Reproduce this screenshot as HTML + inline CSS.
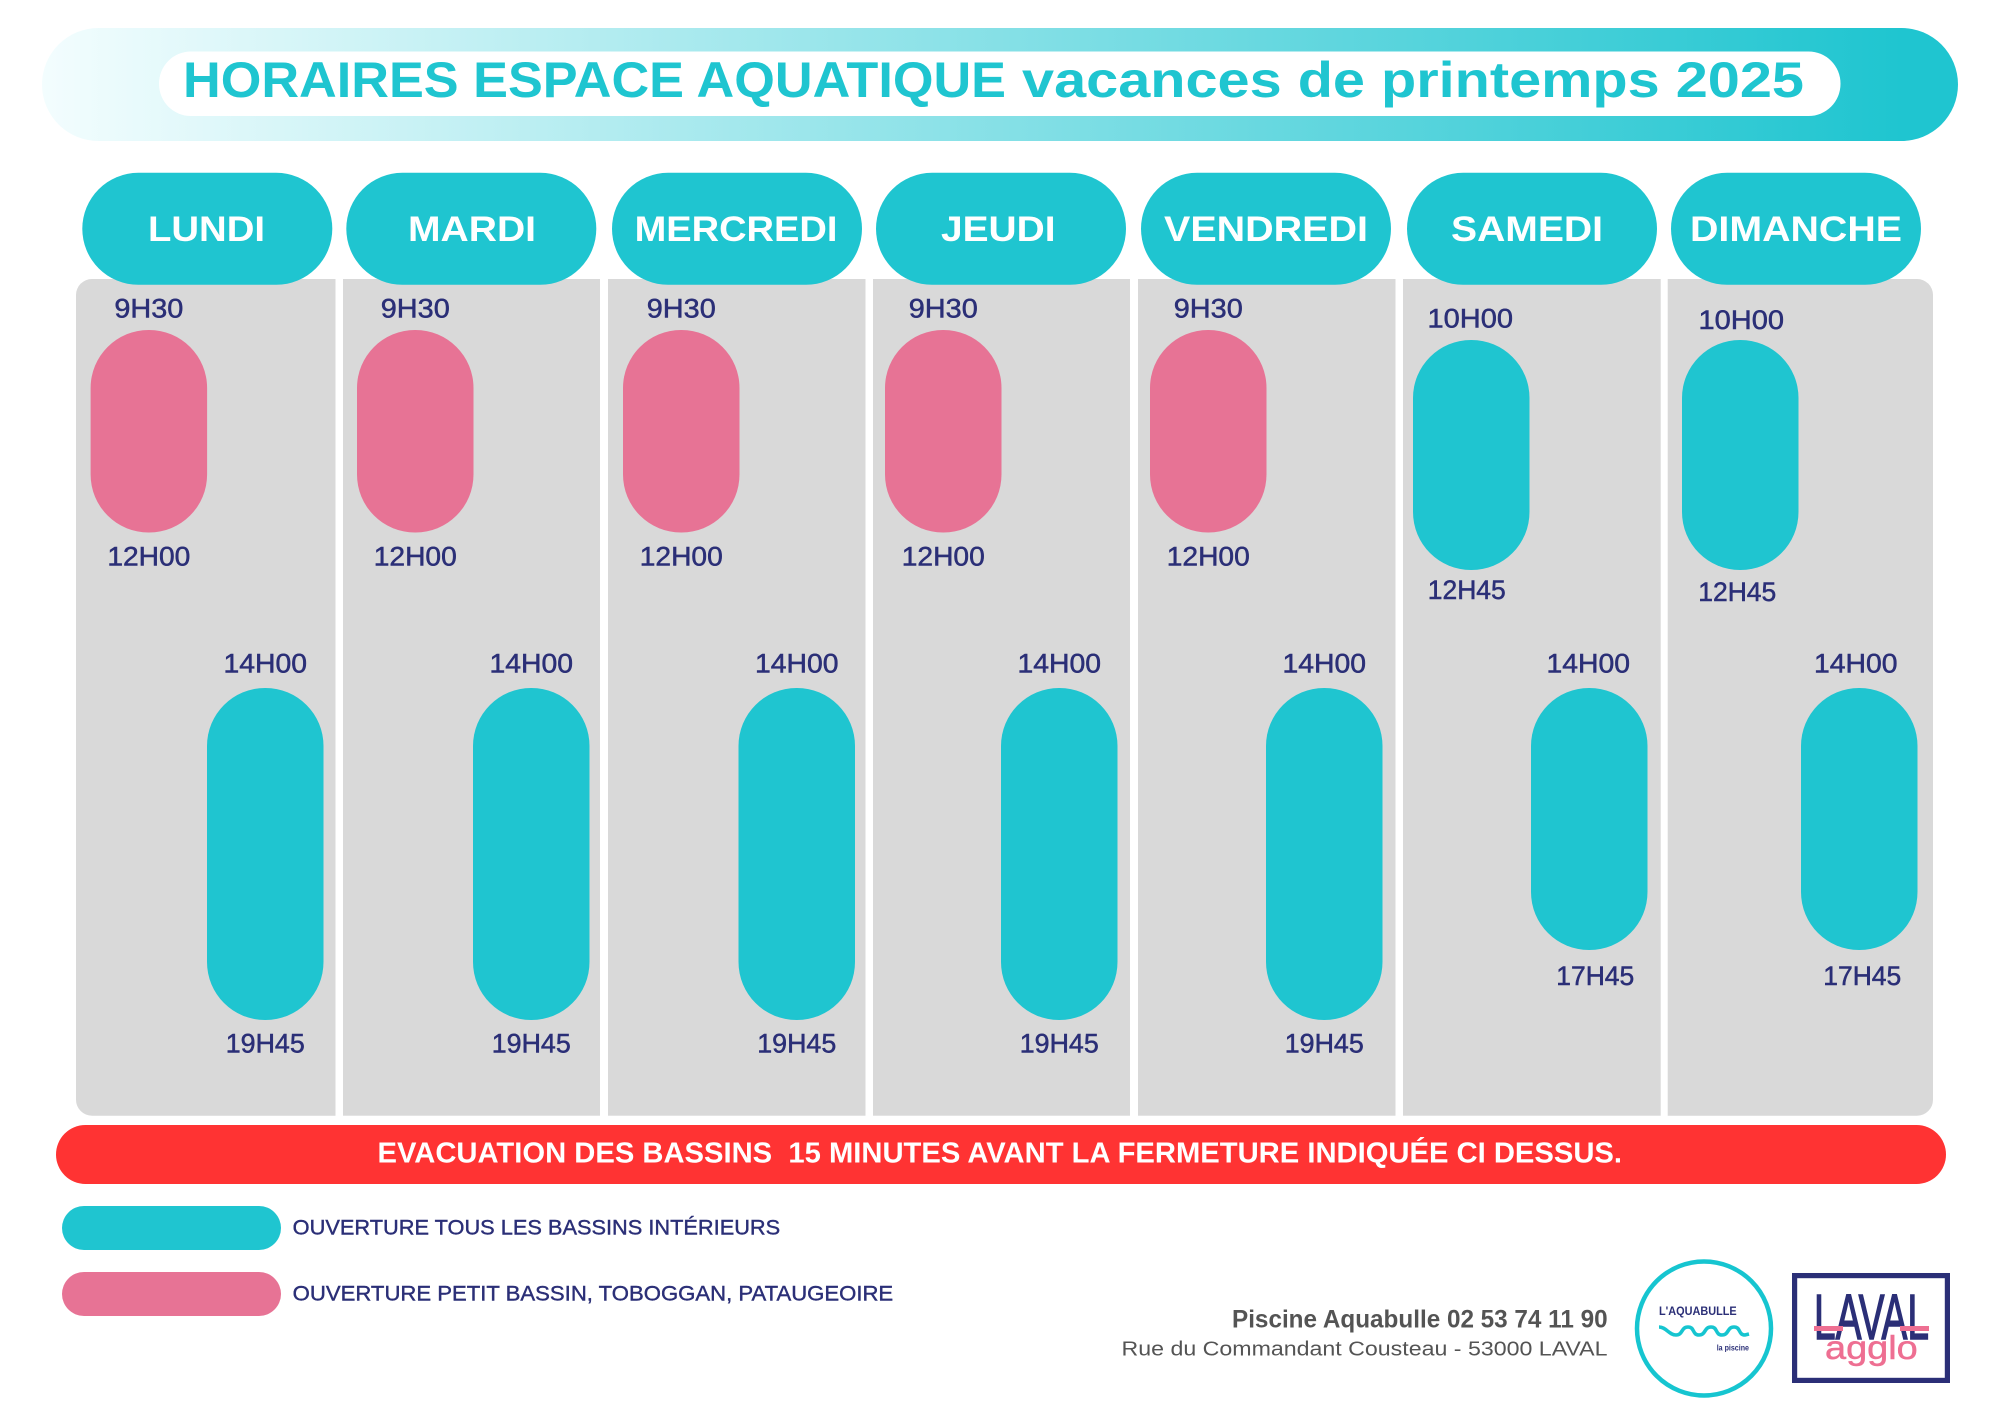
<!DOCTYPE html>
<html lang="fr">
<head>
<meta charset="utf-8">
<title>Horaires espace aquatique</title>
<style>
html,body{margin:0;padding:0;background:#fff;width:2000px;height:1414px;overflow:hidden}
svg{display:block}
text{font-family:"Liberation Sans",sans-serif}
</style>
</head>
<body>
<svg id="chart" xmlns="http://www.w3.org/2000/svg" width="2000" height="1414" viewBox="0 0 2000 1414">
  <defs>
    <linearGradient id="headGrad" x1="0" y1="0" x2="1" y2="0">
      <stop offset="0" stop-color="#f3fdfe"/>
      <stop offset="0.97" stop-color="#1fc5d0"/>
      <stop offset="1" stop-color="#1fc5d0"/>
    </linearGradient>
  </defs>

  <rect x="42" y="28" width="1916" height="113" rx="56.5" fill="url(#headGrad)"/>
  <rect x="159" y="51.5" width="1681.5" height="64.5" rx="32" fill="#fff"/>
  <text x="183" y="97" font-size="50" font-weight="700" fill="#1fc5d0" textLength="823" lengthAdjust="spacingAndGlyphs">HORAIRES ESPACE AQUATIQUE</text>
  <text x="1022" y="97" font-size="50" font-weight="700" fill="#1fc5d0" textLength="782" lengthAdjust="spacingAndGlyphs">vacances de printemps 2025</text>

  <g id="columns">
    <path fill="#d9d9d9" d="M92 279H335.5V1115.7H92A16 16 0 0 1 76 1099.7V295A16 16 0 0 1 92 279Z"/>
    <rect fill="#d9d9d9" x="343" y="279" width="257" height="836.7"/>
    <rect fill="#d9d9d9" x="608" y="279" width="257.5" height="836.7"/>
    <rect fill="#d9d9d9" x="873" y="279" width="257" height="836.7"/>
    <rect fill="#d9d9d9" x="1138" y="279" width="257.5" height="836.7"/>
    <rect fill="#d9d9d9" x="1403" y="279" width="257.7" height="836.7"/>
    <path fill="#d9d9d9" d="M1667.7 279H1917A16 16 0 0 1 1933 295V1099.7A16 16 0 0 1 1917 1115.7H1667.7Z"/>
  </g>

  <g id="marks"></g>

  <rect x="56" y="1125" width="1890" height="59" rx="29.5" fill="#ff3333"/>
  <text x="377.5" y="1162.7" font-size="28.3" font-weight="700" fill="#fff" textLength="1244.5" lengthAdjust="spacingAndGlyphs" xml:space="preserve">EVACUATION DES BASSINS  15 MINUTES AVANT LA FERMETURE INDIQUÉE CI DESSUS.</text>

  <rect x="62" y="1206" width="219" height="44" rx="22" fill="#1fc5d0"/>
  <text x="292.7" y="1234.3" font-size="20.8" fill="#2b2f77" stroke="#2b2f77" stroke-width="0.4" textLength="487.5" lengthAdjust="spacingAndGlyphs">OUVERTURE TOUS LES BASSINS INTÉRIEURS</text>
  <rect x="62" y="1272" width="219" height="44" rx="22" fill="#e77395"/>
  <text x="292.7" y="1300.7" font-size="20.8" fill="#2b2f77" stroke="#2b2f77" stroke-width="0.4" textLength="600.5" lengthAdjust="spacingAndGlyphs">OUVERTURE PETIT BASSIN, TOBOGGAN, PATAUGEOIRE</text>

  <text x="1232" y="1327.7" font-size="24.7" font-weight="700" fill="#545454" textLength="375.6" lengthAdjust="spacingAndGlyphs">Piscine Aquabulle 02 53 74 11 90</text>
  <text x="1121.5" y="1355.7" font-size="20.4" fill="#545454" textLength="486" lengthAdjust="spacingAndGlyphs">Rue du Commandant Cousteau - 53000 LAVAL</text>

  <g>
    <circle cx="1704" cy="1328.5" r="67" fill="#fff" stroke="#16c5d0" stroke-width="4.5"/>
    <text x="1659" y="1315" font-size="11.5" font-weight="700" fill="#2b2f77" textLength="77.7" lengthAdjust="spacingAndGlyphs">L'AQUABULLE</text>
    <path fill="none" stroke="#16c5d0" stroke-width="3.6" d="M1659 1327C1666 1327 1669 1335 1676 1335S1681 1327 1688 1327S1692 1335 1699 1335S1704 1327 1711 1327S1715 1335 1722 1335S1727 1327 1734 1327S1738 1335 1745 1335L1749 1334"/>
    <text x="1716.7" y="1350.7" font-size="8" font-weight="700" fill="#2b2f77" textLength="32.3" lengthAdjust="spacingAndGlyphs">la piscine</text>
  </g>

  <g>
    <rect x="1794.6" y="1275.6" width="152.8" height="104.8" fill="#fff" stroke="#2b2f77" stroke-width="5.2"/>
    <text x="1814" y="1339" font-size="64" fill="#2b2f77" stroke="#2b2f77" stroke-width="1.6" textLength="115" lengthAdjust="spacingAndGlyphs">LAVAL</text>
    <rect x="1814" y="1326" width="29" height="5" fill="#ee6f92"/>
    <rect x="1900" y="1326" width="29" height="5" fill="#ee6f92"/>
    <text x="1825" y="1359" font-size="33" fill="#ee6f92" stroke="#ee6f92" stroke-width="0.5" textLength="92.7" lengthAdjust="spacingAndGlyphs">agglo</text>
  </g>

  <g id="dayHeaders"></g>
</svg>

<script>
// ---- schedule data (decimal hours) ----
const days = ["LUNDI","MARDI","MERCREDI","JEUDI","VENDREDI","SAMEDI","DIMANCHE"];
const morningOpen  = [9.5, 9.5, 9.5, 9.5, 9.5, 10, 10];
const morningClose = [12, 12, 12, 12, 12, 12.75, 12.75];
const afternoonOpen  = [14, 14, 14, 14, 14, 14, 14];
const afternoonClose = [19.75, 19.75, 19.75, 19.75, 19.75, 17.75, 17.75];
const morningKind = ["small","small","small","small","small","all","all"];

// ---- layout (separate from the data) ----
const layout = {
  head:[[82.3,207,148,265],[346.3,471.5,408,536],[612,736.8,634.6,837.4],[876,998.2,941,1055.5],[1141,1266,1164,1368],[1407,1527,1451,1603],[1671,1796,1690,1902]],
  amX:[90.6,357,623,885,1150,1413,1682],
  pmX:[207,473,738.5,1001,1266,1531,1801],
  amDx:[[0,0],[0,0],[0,0],[0,0],[0,0],[-1,-4.5],[1,-3]],
  pmDx:[[0,0],[0,0],[0,0],[0,0],[0,0],[-1,6],[-3.5,3]],
  amDy:[[-12.5,33],[-12.5,33],[-12.5,33],[-12.5,33],[-12.5,33],[-12.6,29],[-11,31]],
  pmDy:[[-15.3,32.7],[-15.3,32.7],[-15.3,32.7],[-15.3,32.7],[-15.3,32.7],[-15.3,35],[-15.3,35]]
};
const pillW = 116.5;
const colors = {all:"#1fc5d0", small:"#e77395"};
const glyphW = {"0":17,"1":13.5,"2":14.5,"3":15.5,"4":15,"5":14,"7":14.5,"9":15.5,"H":21};

// poster's time axis is a hand-drawn, piecewise one
function hourToY(h){
  const hs=[9.5,10,12,12.75,14,17.75,19.75];
  const ys=[330,340,532.5,570,688,950,1020];
  let i=0;
  while(i<hs.length-2 && h>hs[i+1]) i++;
  return ys[i]+(h-hs[i])*(ys[i+1]-ys[i])/(hs[i+1]-hs[i]);
}
function fmt(h){
  const H=Math.floor(h), m=Math.round((h-H)*60);
  return H+"H"+String(m).padStart(2,"0");
}
function labelWidth(s){
  let w=0;
  for(const c of s) w+=glyphW[c]||15;
  return w;
}
const NS="http://www.w3.org/2000/svg";
const marks=document.getElementById("marks");
const headers=document.getElementById("dayHeaders");

function timeLabel(parent,s,cx,y,name){
  const t=document.createElementNS(NS,"text");
  
  
  t.setAttribute("x",cx-labelWidth(s)/2);
  t.setAttribute("y",y);
  t.setAttribute("font-size","26.5");
  t.setAttribute("fill","#2b2f77");
  t.setAttribute("stroke","#2b2f77");
  t.setAttribute("stroke-width","0.5");
  t.setAttribute("textLength",labelWidth(s));
  t.setAttribute("lengthAdjust","spacingAndGlyphs");
  t.textContent=s;
  parent.appendChild(t);
}
function pill(parent,x,h0,h1,fill,name){
  const top=hourToY(h0), bot=hourToY(h1);
  const r=document.createElementNS(NS,"rect");
  
  
  r.setAttribute("x",x);
  r.setAttribute("y",top);
  r.setAttribute("width",pillW);
  r.setAttribute("height",bot-top);
  r.setAttribute("rx",58);
  r.setAttribute("fill",fill);
  parent.appendChild(r);
}

days.forEach(function(day,i){
  const key=day.toLowerCase();
  // morning session
  const ax=layout.amX[i], acx=ax+pillW/2;
  pill(marks,ax,morningOpen[i],morningClose[i],colors[morningKind[i]],"session-morning-"+key);
  timeLabel(marks,fmt(morningOpen[i]),acx+layout.amDx[i][0],hourToY(morningOpen[i])+layout.amDy[i][0],"opening-time-morning-"+key);
  timeLabel(marks,fmt(morningClose[i]),acx+layout.amDx[i][1],hourToY(morningClose[i])+layout.amDy[i][1],"closing-time-morning-"+key);
  // afternoon session
  const px=layout.pmX[i], pcx=px+pillW/2;
  pill(marks,px,afternoonOpen[i],afternoonClose[i],colors.all,"session-afternoon-"+key);
  timeLabel(marks,fmt(afternoonOpen[i]),pcx+layout.pmDx[i][0],hourToY(afternoonOpen[i])+layout.pmDy[i][0],"opening-time-afternoon-"+key);
  timeLabel(marks,fmt(afternoonClose[i]),pcx+layout.pmDx[i][1],hourToY(afternoonClose[i])+layout.pmDy[i][1],"closing-time-afternoon-"+key);
  // day header
  const hd=layout.head[i];
  const r=document.createElementNS(NS,"rect");
  
  
  r.setAttribute("x",hd[0]);
  r.setAttribute("y",172.8);
  r.setAttribute("width",250);
  r.setAttribute("height",112);
  r.setAttribute("rx",56);
  r.setAttribute("fill","#1fc5d0");
  headers.appendChild(r);
  const t=document.createElementNS(NS,"text");
  
  
  t.setAttribute("x",hd[2]);
  t.setAttribute("y",241);
  t.setAttribute("font-size","35.6");
  t.setAttribute("font-weight","700");
  t.setAttribute("fill","#fff");
  t.setAttribute("textLength",hd[3]-hd[2]);
  t.setAttribute("lengthAdjust","spacingAndGlyphs");
  t.textContent=day;
  headers.appendChild(t);
});
</script>
</body>
</html>
